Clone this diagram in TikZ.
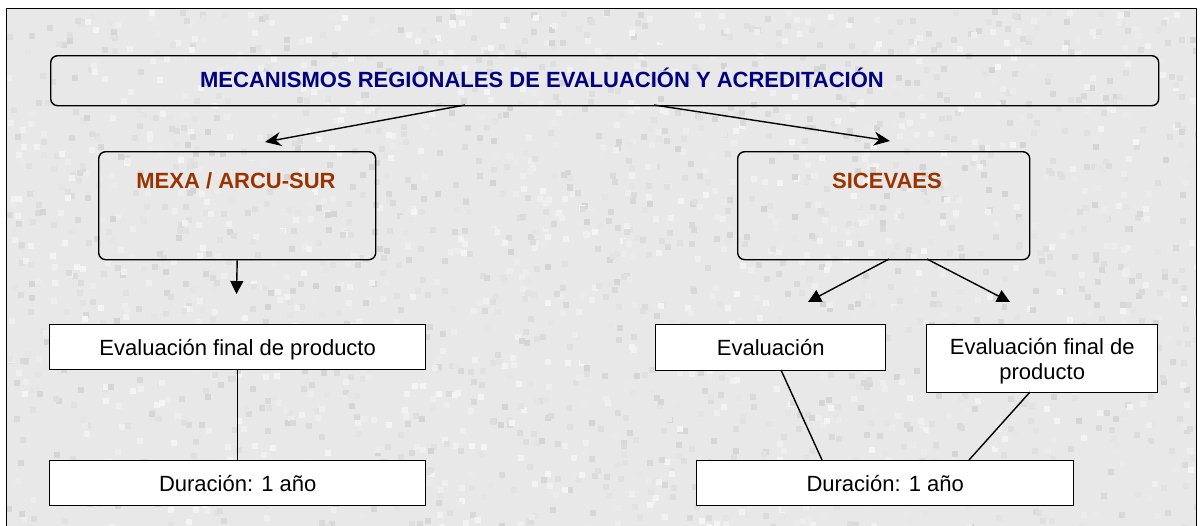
\documentclass[tikz,border=0pt]{standalone}
\usepackage{fontspec}
\setmainfont{Liberation Sans}
\usetikzlibrary{arrows.meta,calc}
\definecolor{navy}{RGB}{0,0,128}
\definecolor{brick}{RGB}{153,51,0}
\definecolor{bgtex}{RGB}{232,232,232}
\begin{document}
\begin{tikzpicture}[x=1pt,y=-1pt,
  rbox/.style={draw, line width=1.4pt, rounded corners=7pt, inner sep=0pt, anchor=north west},
  sbox/.style={draw, fill=white, line width=1.4pt, inner sep=0pt, anchor=north west, font=\fontsize{22}{25}\selectfont, align=center, text depth=0pt},
  lbl/.style={font=\fontsize{22}{26}\selectfont\bfseries, inner sep=0pt},
  conn/.style={line width=1.4pt},
  tarrow/.style={conn,-{Stealth[length=16pt,width=14pt]}},
  darrow/.style={conn,-{Triangle[length=13pt,width=13pt]}}]
\useasboundingbox (0,0) rectangle (1201,525);
\fill[white] (0,0) rectangle (1201,525);
\fill[bgtex] (6,8) rectangle (1196,540);
% background texture
\begin{scope}
\clip (6,8) rectangle (1196,525);
\pgfmathsetseed{7}
\foreach \i in {1,...,2600}{
  \pgfmathsetmacro{\px}{6+rnd*1190}
  \pgfmathsetmacro{\py}{8+rnd*517}
  \pgfmathsetmacro{\pg}{int(212+rnd*34)}
  \definecolor{texc}{RGB}{\pg,\pg,\pg}
  \fill[texc] (\px,\py) rectangle ++(6,6);
}
\end{scope}
\draw[line width=1pt] (6,540) -- (6,8) -- (1196,8) -- (1196,540);
% boxes
\node[rbox, minimum width=1108pt, minimum height=50pt] (top) at (50,55) {};
\node[lbl, text=navy] (toplbl) at (542,78) {MECANISMOS REGIONALES DE EVALUACIÓN Y ACREDITACIÓN};
\node[rbox, minimum width=277pt, minimum height=108pt] (mexa) at (98,151) {};
\node[lbl, text=brick] (mexalbl) at (236,181) {MEXA / ARCU-SUR};
\node[rbox, minimum width=292pt, minimum height=108pt] (sic) at (737,151) {};
\node[lbl, text=brick] (siclbl) at (887,181) {SICEVAES};
\node[sbox, minimum width=376pt, minimum height=45pt] (efl) at (49,324) {Evaluación final de producto};
\node[sbox, minimum width=376pt, minimum height=45pt] (dl) at (49,460) {Duración: 1 año};
\node[sbox, minimum width=230pt, minimum height=46pt] (ev) at (655,324) {Evaluación};
\node[sbox, minimum width=231pt, minimum height=68pt] (efr) at (926,324) {Evaluación final de\\producto};
\node[sbox, minimum width=377pt, minimum height=45pt] (dr) at (696,460) {Duración: 1 año};
% connector end points
\coordinate (t1s) at (465,105);
\coordinate (t1e) at (265,142);
\coordinate (t2s) at (654,105);
\coordinate (t2e) at (890,141);
\coordinate (m1e) at (236.5,294);
\coordinate (s1s) at (889,259);
\coordinate (s1e) at (808,302);
\coordinate (s2s) at (927,259);
\coordinate (s2e) at (1010,302);
\coordinate (l1s) at (781,370);
\coordinate (l1e) at (822,460);
\coordinate (l2s) at (1030,392);
\coordinate (l2e) at (969,460);
% connectors
\draw[tarrow] (t1s) -- (t1e);
\draw[tarrow] (t2s) -- (t2e);
\draw[darrow] (mexa.south) -- (m1e);
\draw[darrow] (s1s) -- (s1e);
\draw[darrow] (s2s) -- (s2e);
\draw[conn] (efl.south) -- (dl.north);
\draw[conn] (l1s) -- (l1e);
\draw[conn] (l2s) -- (l2e);
\end{tikzpicture}
\end{document}
